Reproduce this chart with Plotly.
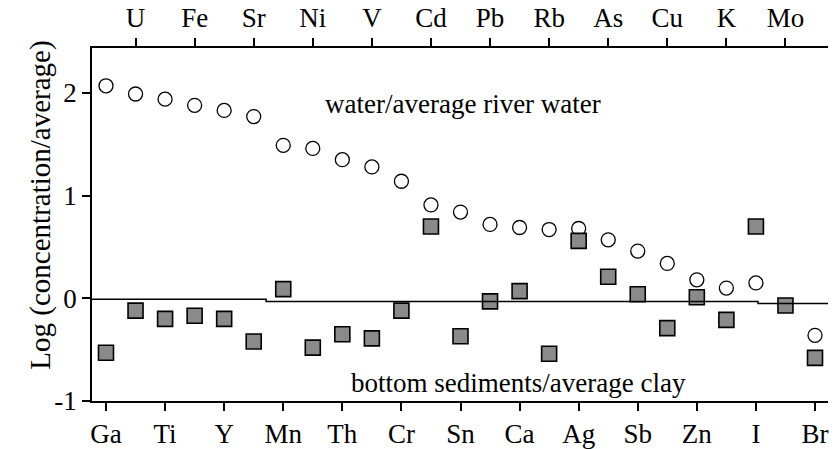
import plotly.graph_objects as go

elements = ["Ga", "U", "Ti", "Fe", "Y", "Sr", "Mn", "Ni", "Th", "V", "Cr", "Cd", "Sn",
            "Pb", "Ca", "Rb", "Ag", "As", "Sb", "Cu", "Zn", "K", "I", "Mo", "Br"]

water_ratio = [2.07, 1.99, 1.94, 1.88, 1.83, 1.77, 1.49, 1.46, 1.35, 1.28, 1.14, 0.91, 0.84,
               0.72, 0.69, 0.67, 0.68, 0.57, 0.46, 0.34, 0.18, 0.10, 0.15, None, -0.36]

sediment_ratio = [-0.53, -0.12, -0.20, -0.17, -0.20, -0.42, 0.09, -0.48, -0.35, -0.39, -0.12, 0.70, -0.37,
                  -0.03, 0.07, -0.54, 0.56, 0.21, 0.04, -0.29, 0.01, -0.21, 0.70, -0.07, -0.58]

# reference (clay/average) baseline, drawn as a slightly stepped line
baseline_x = [-0.474, 5.42, 5.42, 22.07, 22.07, 24.44]
baseline_y = [-0.01, -0.01, -0.03, -0.03, -0.05, -0.05]

bottom_labels = elements[0::2]
top_labels = elements[1::2]

pos = list(range(len(elements)))
bottom_pos = pos[0::2]
top_pos = pos[1::2]

FONT = "Liberation Serif"
FS = 27

fig = go.Figure()

fig.add_trace(go.Scatter(
    x=pos, y=water_ratio, mode="markers",
    marker=dict(symbol="circle-open", size=14, color="black", line=dict(width=1.3, color="black")),
    showlegend=False, cliponaxis=False))

fig.add_trace(go.Scatter(
    x=pos, y=sediment_ratio, mode="markers",
    marker=dict(symbol="square", size=15, color="#8a8a8a", line=dict(width=1.6, color="black")),
    showlegend=False, cliponaxis=False))

fig.add_trace(go.Scatter(
    x=baseline_x, y=baseline_y, mode="lines",
    line=dict(color="black", width=1.5), showlegend=False, hoverinfo="skip"))

# invisible trace to activate top axis
fig.add_trace(go.Scatter(x=top_pos, y=[None] * len(top_pos), xaxis="x2", mode="markers",
                         showlegend=False, hoverinfo="skip"))

x_range = [-0.474, 24.44]
y_range = [-1.0, 2.438]

tick_font = dict(family=FONT, size=FS, color="black")

fig.update_layout(
    width=837, height=449,
    margin=dict(l=92, r=9, t=48, b=48),
    paper_bgcolor="white", plot_bgcolor="white",
    font=dict(family=FONT, size=FS, color="black"),
    xaxis=dict(
        range=x_range, tickmode="array", tickvals=bottom_pos, ticktext=bottom_labels,
        showline=True, linecolor="black", linewidth=1.5, ticks="outside", ticklen=8,
        tickwidth=1.5, tickcolor="black", showgrid=False, zeroline=False,
        tickfont=tick_font, automargin=False),
    xaxis2=dict(
        range=x_range, overlaying="x", side="top", tickmode="array", tickvals=top_pos,
        ticktext=top_labels, showline=True, linecolor="black", linewidth=1.5,
        ticks="outside", ticklen=8, tickwidth=1.5, tickcolor="black", showgrid=False,
        zeroline=False, tickfont=tick_font, automargin=False),
    yaxis=dict(
        range=y_range, tickmode="array", tickvals=[-1, 0, 1, 2], ticktext=["-1", "0", "1", "2"],
        showline=True, linecolor="black", linewidth=1.5, ticks="outside", ticklen=8,
        tickwidth=1.5, tickcolor="black", showgrid=False, zeroline=False,
        tickfont=tick_font, automargin=False),
    annotations=[
        dict(x=12.08, y=1.89, xref="x", yref="y", text="water/average river water",
             showarrow=False, font=dict(family=FONT, size=FS, color="black")),
        dict(x=13.98, y=-0.825, xref="x", yref="y", text="bottom sediments/average clay",
             showarrow=False, font=dict(family=FONT, size=FS, color="black")),
        dict(x=-0.095, y=0.555, xref="paper", yref="paper", text="Log (concentration/average)",
             textangle=-90, showarrow=False, font=dict(family=FONT, size=29, color="black")),
    ],
)

fig.write_html("out.html")
